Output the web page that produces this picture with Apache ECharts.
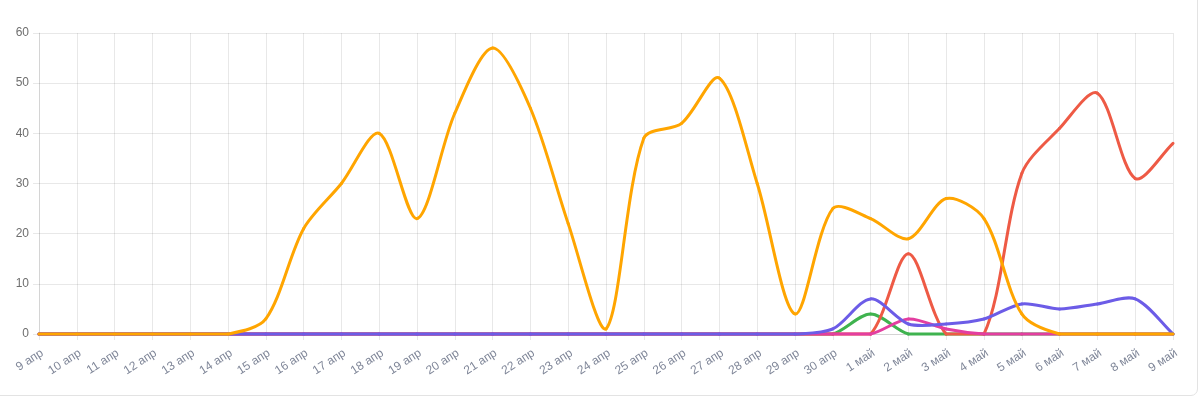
<!DOCTYPE html>
<html>
<head>
<meta charset="utf-8">
<script src="https://cdn.jsdelivr.net/npm/echarts@6/dist/echarts.min.js"></script>
<style>
html,body{margin:0;padding:0;background:#fff;overflow:hidden;}
#card{position:absolute;left:-20px;top:-20px;width:1218px;height:416px;border:1px solid #e3e3e3;border-radius:7px;box-sizing:border-box;}
#chart{position:absolute;left:0;top:0;width:1200px;height:397px;}
</style>
</head>
<body>
<div id="card"></div>
<div id="chart"></div>
<script>
const categories = ["9 апр","10 апр","11 апр","12 апр","13 апр","14 апр","15 апр","16 апр","17 апр","18 апр","19 апр","20 апр","21 апр","22 апр","23 апр","24 апр","25 апр","26 апр","27 апр","28 апр","29 апр","30 апр","1 май","2 май","3 май","4 май","5 май","6 май","7 май","8 май","9 май"];
const orangeValues = [0,0,0,0,0,0,3,21,30,40,23,44,57,45,22,1,39,42,51,30,4,25,23,19,27,23,4,0,0,0,0];
const redValues    = [0,0,0,0,0,0,0,0,0,0,0,0,0,0,0,0,0,0,0,0,0,0,0,16,0,0,32,41,48,31,38];
const greenValues  = [0,0,0,0,0,0,0,0,0,0,0,0,0,0,0,0,0,0,0,0,0,0,4,0,0,0,0,0,0,0,0];
const purpleValues = [0,0,0,0,0,0,0,0,0,0,0,0,0,0,0,0,0,0,0,0,0,1,7,2,2,3,6,5,6,7,0];
const pinkValues   = [0,0,0,0,0,0,0,0,0,0,0,0,0,0,0,0,0,0,0,0,0,0,0,3,1,0,0,0,0,0,0];
const yTicks = {min:0, max:60, interval:10};

const gridColor = 'rgba(0,0,0,0.09)';
const TENSION = 0.3;

// Spline segments (tension curve), positioned through ECharts' own axes via api.coord
function splineSeries(name, values, color){
  return {
    name, type:'custom', coordinateSystem:'cartesian2d',
    data: values.map((v,k)=>[k, v]),
    encode:{x:0, y:1},
    clip:false,
    renderItem: function(params, api){
      const i = params.dataIndex;
      const n = values.length;
      if (i >= n-1) return null;
      const cs = params.coordSys;
      const top = cs.y, bottom = cs.y + cs.height, left = cs.x, right = cs.x + cs.width;
      const pts = values.map((v,k)=>api.coord([k, v]));
      function ctrl(k){
        const prev = pts[Math.max(k-1,0)], cur = pts[k], next = pts[Math.min(k+1,n-1)];
        const d01 = Math.hypot(cur[0]-prev[0], cur[1]-prev[1]);
        const d12 = Math.hypot(next[0]-cur[0], next[1]-cur[1]);
        let s01 = d01/(d01+d12), s12 = d12/(d01+d12);
        if (!isFinite(s01)) s01 = 0; if (!isFinite(s12)) s12 = 0;
        const fa = TENSION*s01, fb = TENSION*s12;
        const cap = (x,y)=>[Math.min(Math.max(x,left),right), Math.min(Math.max(y,top),bottom)];
        return {
          prev: cap(cur[0]-fa*(next[0]-prev[0]), cur[1]-fa*(next[1]-prev[1])),
          next: cap(cur[0]+fb*(next[0]-prev[0]), cur[1]+fb*(next[1]-prev[1]))
        };
      }
      const c0 = ctrl(i), c1 = ctrl(i+1);
      return {
        type:'bezierCurve',
        shape:{x1:pts[i][0], y1:pts[i][1], x2:pts[i+1][0], y2:pts[i+1][1],
               cpx1:c0.next[0], cpy1:c0.next[1], cpx2:c1.prev[0], cpy2:c1.prev[1]},
        style:{stroke:color, lineWidth:3, fill:null, lineCap:'round', lineJoin:'round'}
      };
    }
  };
}

const chart = echarts.init(document.getElementById('chart'), null, {renderer:'canvas'});
chart.setOption({
  animation:false,
  grid:{left:39, right:27, top:33, bottom:63, containLabel:false},
  xAxis:{type:'category', data:categories, boundaryGap:false,
    axisLine:{show:true, lineStyle:{color:gridColor}},
    axisTick:{show:true, length:6, lineStyle:{color:gridColor}},
    splitLine:{show:true, lineStyle:{color:gridColor}},
    axisLabel:{interval:0, rotate:33, color:'#7f8698', fontSize:12, fontFamily:'Liberation Sans, Arial, sans-serif', margin:13, verticalAlign:'top'}
  },
  yAxis:{type:'value', min:yTicks.min, max:yTicks.max, interval:yTicks.interval,
    axisLine:{show:true, lineStyle:{color:gridColor}},
    axisTick:{show:true, length:6, lineStyle:{color:gridColor}},
    splitLine:{show:true, lineStyle:{color:gridColor}},
    axisLabel:{color:'#6e6e6e', fontSize:12, fontFamily:'Liberation Sans, Arial, sans-serif', margin:10}
  },
  series:[
    splineSeries('green', greenValues, '#3fb34f'),
    splineSeries('red', redValues, '#ee5a45'),
    splineSeries('pink', pinkValues, '#e33ea0'),
    splineSeries('purple', purpleValues, '#6c5ce7'),
    splineSeries('orange', orangeValues, '#ffa500')
  ]
});
</script>
</body>
</html>
